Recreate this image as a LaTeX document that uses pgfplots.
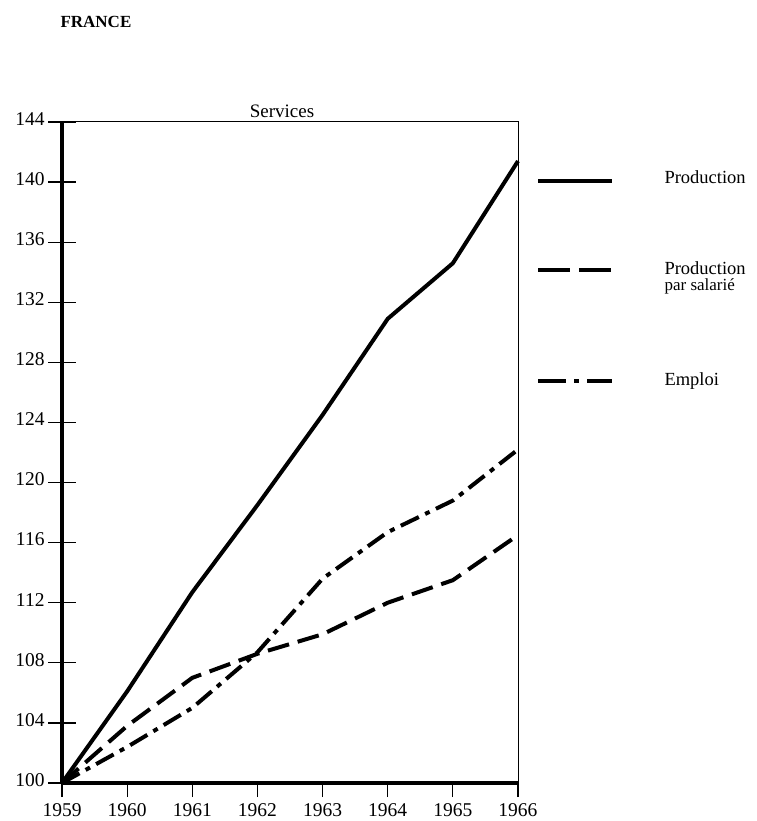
\documentclass[border=0pt]{standalone}
\usepackage{fontspec}
\setmainfont{Liberation Serif}
\usepackage{pgfplots}
\pgfplotsset{compat=1.18}
\begin{document}
\begin{tikzpicture}[x=1pt,y=1pt]
\useasboundingbox (0,0) rectangle (756,821);
\node[anchor=west,font=\fontsize{17}{20}\selectfont\bfseries] at (57,799) {FRANCE};
\begin{axis}[
  at={(62pt,38pt)}, anchor=south west,
  scale only axis, width=456pt, height=661pt,
  xmin=1959, xmax=1966, ymin=100, ymax=144,
  xtick={1959,...,1966}, ytick={100,104,...,144},
  xticklabel style={/pgf/number format/1000 sep={}},
  /pgf/number format/assume math mode=true,
  ticklabel style={font=\fontsize{19.5}{22}\selectfont},
  xtick pos=bottom, ytick pos=left,
  tick align=center,
  major tick length=28pt,
  tick style={line width=1.2pt, black},
  xtick style={yshift=-7pt,/pgfplots/major tick length=14pt},
  xticklabel style={yshift=-3pt},
  yticklabel style={xshift=0pt, yshift=3pt},
  axis line style={line width=1pt},
  title={Services},
  title style={font=\fontsize{19}{22}\selectfont, yshift=-5pt, xshift=-8pt},
  clip=false,
]
\draw[line width=3.5pt] (rel axis cs:0,0) -- (rel axis cs:0,1);
\draw[line width=3.5pt] (rel axis cs:0,0) -- (rel axis cs:1,0);
\addplot[black, line width=4pt, line join=round] coordinates {
(1959,100) (1960,106.1) (1961,112.7) (1962,118.5) (1963,124.5) (1964,130.9) (1965,134.6) (1966,141.4)};
\addplot[black, line width=4pt, dash pattern=on 22pt off 9pt] coordinates {
(1959,100) (1960,103.8) (1961,107.0) (1962,108.6) (1963,109.9) (1964,112.0) (1965,113.5) (1966,116.5)};
\addplot[black, line width=4pt, dash pattern=on 20pt off 7pt on 5pt off 7pt] coordinates {
(1959,100) (1960,102.4) (1961,105.0) (1962,108.7) (1963,113.6) (1964,116.7) (1965,118.8) (1966,122.2)};
\end{axis}
% legend
\draw[line width=4pt] (538,640) -- (612,640);
\node[anchor=west,font=\fontsize{18.5}{21}\selectfont] at (661,644) {Production};
\draw[line width=4pt, dash pattern=on 32pt off 9pt] (538,551) -- (612,551);
\node[anchor=west,font=\fontsize{18.5}{21}\selectfont] at (661,553) {Production};
\node[anchor=west,font=\fontsize{17}{20}\selectfont] at (661,535) {par salarié};
\draw[line width=4pt, dash pattern=on 28pt off 8pt on 5pt off 8pt] (538,440) -- (612,440);
\node[anchor=west,font=\fontsize{18.5}{21}\selectfont] at (661,440) {Emploi};
\end{tikzpicture}
\end{document}
